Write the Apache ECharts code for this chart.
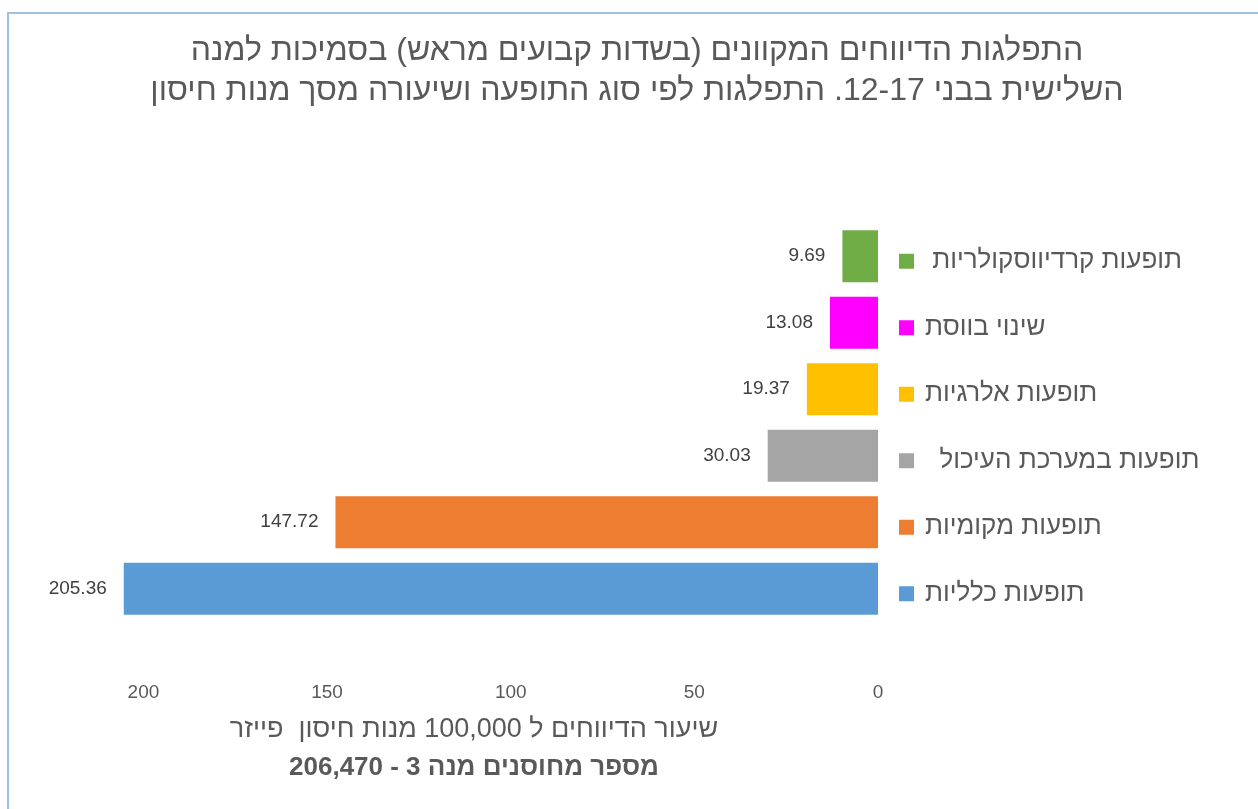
<!DOCTYPE html>
<html lang="he">
<head>
<meta charset="utf-8">
<title>התפלגות הדיווחים המקוונים</title>
<script src="https://cdn.jsdelivr.net/npm/echarts@6/dist/echarts.min.js"></script>
<style>
  html, body { margin: 0; padding: 0; background: #ffffff; }
  #chart { width: 1258px; height: 809px; }
</style>
</head>
<body>
<div id="chart" dir="rtl"></div>
<script>
// Event types, listed from the bottom bar to the top bar
const categories = [
  'תופעות כלליות',
  'תופעות מקומיות',
  'תופעות במערכת העיכול  ',
  'תופעות אלרגיות',
  'שינוי בווסת',
  'תופעות קרדיווסקולריות '
];
// Reports per 100,000 doses
const rates = [205.36, 147.72, 30.03, 19.37, 13.08, 9.69];
const barColors = ['#5B9BD5', '#ED7D31', '#A5A5A5', '#FFC000', '#FF00FF', '#70AD47'];
const xTicks = [0, 50, 100, 150, 200];

const titleLines = [
  'התפלגות הדיווחים המקוונים (בשדות קבועים מראש) בסמיכות למנה',
  'השלישית בבני 12-17. התפלגות לפי סוג התופעה ושיעורה מסך מנות חיסון'
];
const axisNameLines = [
  'שיעור הדיווחים ל 100,000 מנות חיסון  פייזר',
  'מספר מחוסנים מנה 3 - 206,470'
];

const FONT = '"Liberation Sans", Arial, sans-serif';

// one rich style per category for its coloured square
const labelRich = {
  t: { fontSize: 26, color: '#595959', fontFamily: FONT, padding: [0, 0, 0, 11] }
};
barColors.forEach((c, i) => {
  labelRich['m' + i] = { width: 15, height: 15, backgroundColor: c };
});

const chart = echarts.init(document.getElementById('chart'), null, { renderer: 'canvas' });

chart.setOption({
  animation: false,
  backgroundColor: '#ffffff',
  textStyle: { fontFamily: FONT },
  title: {
    text: titleLines.join('\n'),
    left: 632,
    textAlign: 'center',
    top: 26,
    textStyle: {
      fontFamily: FONT,
      fontSize: 32,
      fontWeight: 'normal',
      color: '#595959',
      lineHeight: 40
    }
  },
  graphic: [{
    type: 'rect',
    silent: true,
    shape: { x: 8, y: 13, width: 1400, height: 900 },
    style: { fill: 'none', stroke: '#9DC0E4', lineWidth: 2 }
  }],
  grid: { left: 70, right: 380, top: 223, bottom: 187, containLabel: false },
  xAxis: {
    type: 'value',
    inverse: true,
    min: 0,
    max: 220,
    interval: 50,
    axisLine: { show: false },
    axisTick: { show: false },
    splitLine: { show: false },
    axisLabel: {
      margin: 61,
      fontSize: 19,
      color: '#595959',
      fontFamily: FONT,
      formatter: v => (xTicks.includes(v) ? String(v) : '')
    },
    name: '{a|' + axisNameLines[0] + '}\n{b|' + axisNameLines[1] + '}',
    nameLocation: 'middle',
    nameGap: 89,
    nameTextStyle: {
      rich: {
        a: { fontSize: 27, color: '#595959', fontFamily: FONT, lineHeight: 38 },
        b: { fontSize: 26, fontWeight: 'bold', color: '#595959', fontFamily: FONT, lineHeight: 38 }
      }
    }
  },
  yAxis: {
    type: 'category',
    position: 'right',
    data: categories,
    axisLine: { show: false },
    axisTick: { show: false },
    splitLine: { show: false },
    axisLabel: {
      margin: 21,
      padding: [10, 0, 0, 0],
      formatter: (value, index) => '{m' + index + '|}{t|' + value + '}',
      rich: labelRich
    }
  },
  series: [{
    type: 'bar',
    data: rates.map((v, i) => ({ value: v, itemStyle: { color: barColors[i] } })),
    barCategoryGap: '22%',
    label: {
      show: true,
      position: 'left',
      distance: 17,
      fontSize: 19,
      color: '#404040',
      fontFamily: FONT,
      formatter: p => p.value.toFixed(2)
    }
  }]
});
</script>
</body>
</html>
